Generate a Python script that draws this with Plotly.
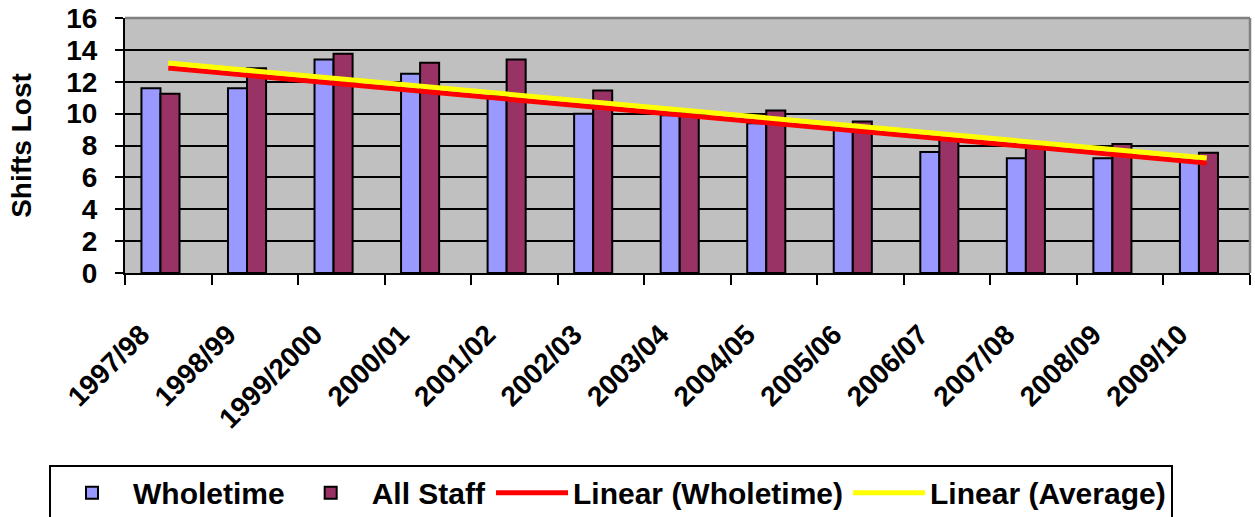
import plotly.graph_objects as go

# ---- data ----
categories = ["1997/98", "1998/99", "1999/2000", "2000/01", "2001/02", "2002/03",
              "2003/04", "2004/05", "2005/06", "2006/07", "2007/08", "2008/09", "2009/10"]
wholetime = [11.6, 11.6, 13.4, 12.5, 11.1, 10.0, 9.9, 9.4, 9.3, 7.6, 7.2, 7.2, 7.0]
all_staff = [11.25, 12.85, 13.75, 13.2, 13.4, 11.45, 10.2, 10.2, 9.5, 8.4, 8.0, 8.1, 7.55]
trend_x = [categories[0], categories[-1]]
trend_wholetime = [12.86, 6.90]
trend_average = [13.17, 7.21]
y_ticks = [0, 2, 4, 6, 8, 10, 12, 14, 16]

FONT = "Liberation Sans, Arial, sans-serif"

fig = go.Figure()
fig.add_trace(go.Bar(
    x=categories, y=wholetime, name="Wholetime",
    marker=dict(color="#9999FF", line=dict(color="black", width=2)),
    offset=-0.31, width=0.22,
))
fig.add_trace(go.Bar(
    x=categories, y=all_staff, name="All Staff",
    marker=dict(color="#993366", line=dict(color="black", width=2)),
    offset=-0.09, width=0.22,
))
fig.add_trace(go.Scatter(
    x=trend_x, y=trend_wholetime, name="Linear (Wholetime)", mode="lines",
    line=dict(color="#FF0000", width=5),
))
fig.add_trace(go.Scatter(
    x=trend_x, y=trend_average, name="Linear (Average)", mode="lines",
    line=dict(color="#FFFF00", width=5),
))

fig.update_layout(
    width=1255, height=517,
    margin=dict(l=125, r=5, t=18, b=244, autoexpand=False),
    paper_bgcolor="white",
    plot_bgcolor="#C0C0C0",
    barmode="group",
    font=dict(family=FONT, size=28, color="black", weight="bold"),
    showlegend=True,
    legend=dict(
        orientation="h", x=0.432, xanchor="center", y=-0.752, yanchor="top",
        bgcolor="white", bordercolor="black", borderwidth=2,
        font=dict(family=FONT, size=30, color="black", weight="bold"),
        itemwidth=72, tracegroupgap=0,
    ),
    xaxis=dict(
        type="category", tickson="boundaries", ticks="outside", ticklen=10,
        tickwidth=2, tickcolor="black", showline=True, linecolor="black", linewidth=2,
        showgrid=False, tickangle=-45, ticklabelstandoff=32, ticklabelshift=-27,
        tickfont=dict(family=FONT, size=28, color="black", weight="bold"),
        automargin=False,
    ),
    yaxis=dict(
        range=[0, 16], tickvals=y_ticks, ticks="outside", ticklen=8, tickwidth=2,
        tickcolor="black", showline=True, linecolor="black", linewidth=2,
        showgrid=True, gridcolor="black", gridwidth=1.5, zeroline=False,
        ticklabelstandoff=12,
        tickfont=dict(family=FONT, size=28, color="black", weight="bold"),
        title=dict(text="Shifts Lost", standoff=26,
                   font=dict(family=FONT, size=28, color="black", weight="bold")),
        automargin=False,
    ),
    shapes=[
        dict(type="line", xref="paper", yref="paper", x0=0, x1=1, y0=1, y1=1,
             line=dict(color="#808080", width=2.5), layer="above"),
        dict(type="line", xref="paper", yref="paper", x0=1, x1=1, y0=0, y1=1,
             line=dict(color="#808080", width=2.5), layer="above"),
    ],
)

fig.write_html("out.html")
